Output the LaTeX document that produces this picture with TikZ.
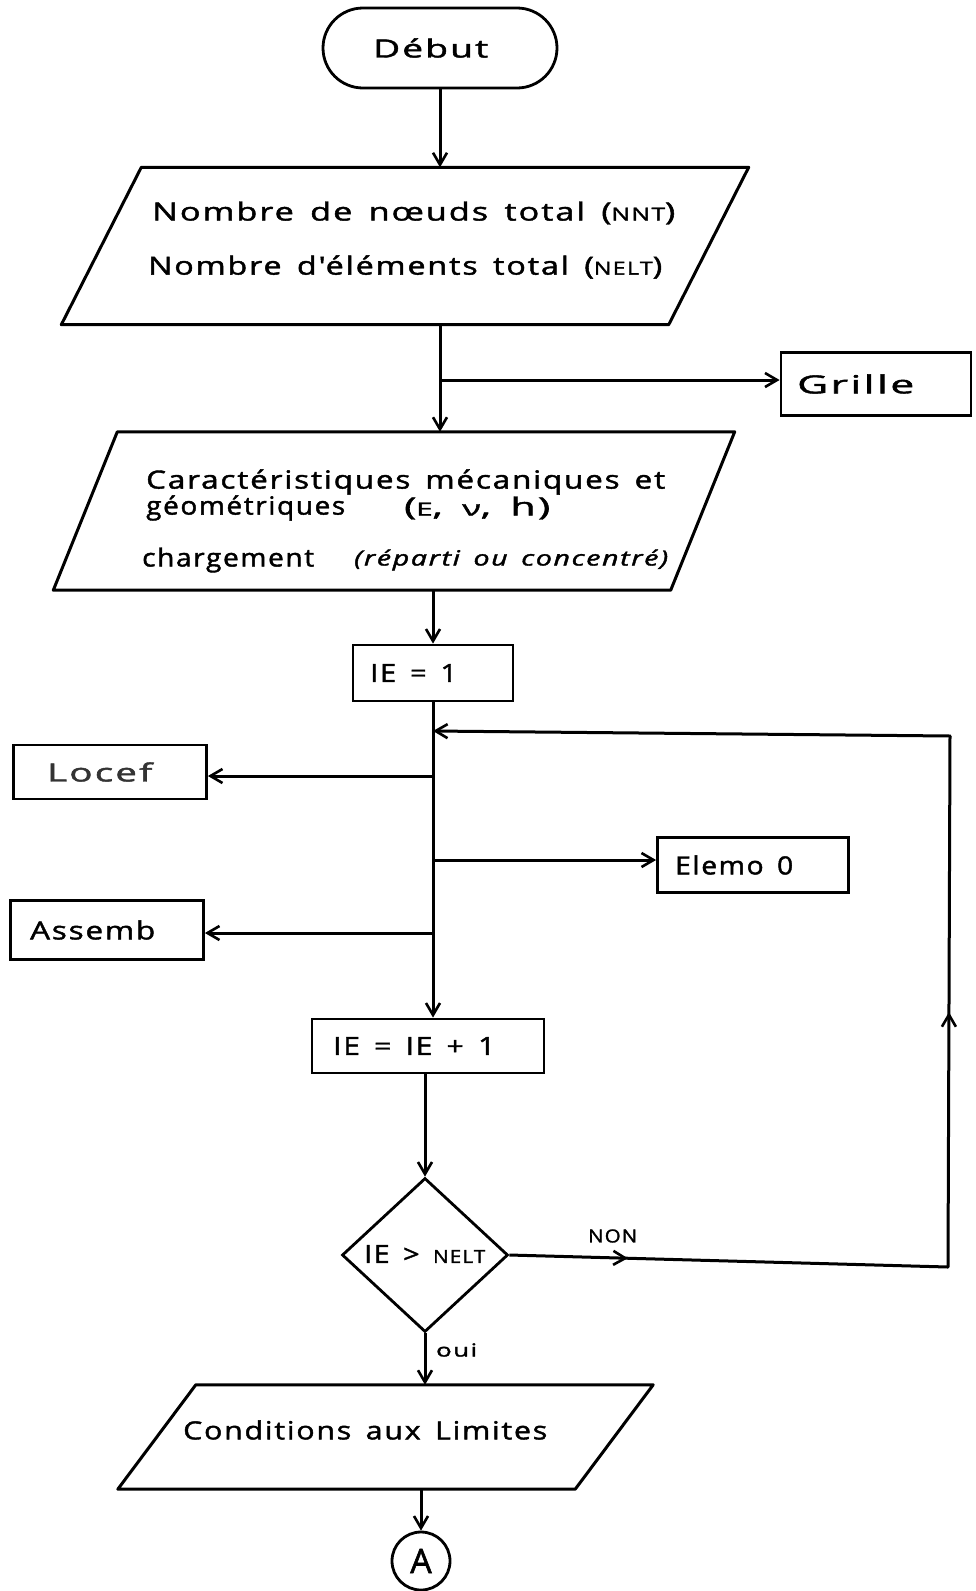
\documentclass[tikz,border=0pt]{standalone}
\usepackage{fontspec}
\usepackage{graphicx}
\newfontfamily\hw{Open Sans}[LetterSpace=6, WordSpace=1.5, FakeBold=1.6]
\usetikzlibrary{arrows.meta,shapes.geometric,shapes.misc,decorations.markings,calc}
\tikzset{
  shp/.style={draw=black, line width=2.8pt, inner sep=0pt},
  hold/.style={draw=none, inner sep=0pt, rectangle},
  txt/.style={inner sep=0pt, anchor=west, font=\hw\fontsize{25}{28}\selectfont},
  sml/.style={inner sep=0pt, font=\hw\fontsize{18}{20}\selectfont},
  conn/.style={draw=black, line width=3pt},
  arr/.style={conn, -{Straight Barb[length=12pt,width=14pt,line width=2.6pt]}},
  midarr/.style={conn, postaction={decorate}, decoration={markings, mark=at position #1 with {\arrow{Straight Barb[length=12pt,width=14pt,line width=2.6pt]}}}},
}
\newcommand\parashape[2]{\draw[line width=3pt, line join=round] ($(#1.north west)+(#2,0)$) -- ($(#1.north east)+(#2,0)$) -- ($(#1.south east)-(#2,0)$) -- ($(#1.south west)-(#2,0)$) -- cycle;}
\newcommand\smc[1]{{\fontsize{18}{20}\selectfont #1}}
\newcommand\fit[2]{\resizebox{#1pt}{\height}{#2}}
\begin{document}
\begin{tikzpicture}[x=1pt,y=-1pt]
\fill[white] (0,0) rectangle (975,1591);
\useasboundingbox (0,0) rectangle (975,1591);

\node[shp, rounded rectangle, minimum width=234pt, minimum height=80pt] (debut) at (440,48) {};
\node[txt] (debutt) at (373,48) {\fit{115}{Début}};

\node[hold, minimum width=607pt, minimum height=157pt] (p1) at (405,246) {};
\parashape{p1}{40}
\node[txt] (p1a) at (152,213) {\fit{523}{Nombre de nœuds total (\smc{NNT})}};
\node[txt] (p1b) at (148,267) {\fit{514}{Nombre d'éléments total (\smc{NELT})}};

\node[shp, minimum width=190pt, minimum height=63pt] (grille) at (876,384) {};
\node[txt] (grillet) at (797,384) {\fit{117}{Grille}};

\node[hold, minimum width=617pt, minimum height=158pt] (p2) at (394,511) {};
\parashape{p2}{32}
\node[txt] (p2a) at (146,482) {\fit{519}{Caractéristiques mécaniques et}};
\node[txt] (p2b) at (146,508) {\fit{199}{géométriques}};
\node[txt] (p2c) at (404,508) {\fit{146}{(\smc{E}, {\fontsize{21}{24}\selectfont ν}, h)}};
\node[txt] (p2d) at (142,560) {\fit{172}{chargement}};
\node[txt, font=\hw\itshape\fontsize{21}{24}\selectfont] (p2e) at (354,560) {\fit{314}{(réparti ou concentré)}};

\node[shp, minimum width=160pt, minimum height=56pt] (ie1) at (433,673) {};
\node[txt] (ie1t) at (370,673) {\fit{87}{IE = 1}};

\node[shp, minimum width=193pt, minimum height=54pt] (locef) at (110,772) {};
\node[txt, text=black!80] (loceft) at (47,772) {\fit{105}{Locef}};
\node[shp, minimum width=191pt, minimum height=55pt] (elemo) at (753,865) {};
\node[txt] (elemot) at (675,865) {\fit{118}{Elemo 0}};
\node[shp, minimum width=193pt, minimum height=59pt] (assemb) at (107,930) {};
\node[txt] (assembt) at (30,930) {\fit{125}{Assemb}};
\node[shp, minimum width=232pt, minimum height=54pt] (ieinc) at (428,1046) {};
\node[txt] (ieinct) at (333,1046) {\fit{162}{IE = IE + 1}};

\node[shp, diamond, minimum width=166pt, minimum height=154pt] (diam) at (425,1255) {};
\node[txt] (diamt) at (364,1254) {\fit{121}{IE > \smc{NELT}}};

\node[hold, minimum width=457pt, minimum height=104pt] (p3) at (385.5,1437) {};
\parashape{p3}{39}
\node[txt] (p3t) at (183,1430) {\fit{364}{Conditions aux Limites}};

\node[shp, circle, minimum size=58pt] (conA) at (421,1561) {};
\node[txt, anchor=center, font=\hw\fontsize{34}{38}\selectfont] (conAt) at (421,1561) {A};

\node[sml, anchor=west] (non) at (588,1236) {\fit{49}{NON}};
\node[sml, anchor=west] (oui) at (436,1350) {\fit{41}{oui}};

\coordinate (b1) at (440,380);
\coordinate (j0) at (433,731);
\coordinate (jl) at (433,776);
\coordinate (je) at (433,860);
\coordinate (ja) at (433,933);
\coordinate (nr) at (948,1267);
\coordinate (tr) at (950,736);

\draw[arr] (debut.south) -- (debut.south |- p1.north);
\draw[arr] (debut.south |- p1.south) -- (debut.south |- p2.north);
\draw[arr] (b1) -- (grille.west |- b1);
\draw[arr] (ie1.north |- p2.south) -- (ie1.north);
\draw[arr] (ie1.south) -- (ie1.south |- ieinc.north);
\draw[arr] (jl) -- (locef.east |- jl);
\draw[arr] (je) -- (elemo.west |- je);
\draw[arr] (ja) -- (assemb.east |- ja);
\draw[arr] (ieinc.south -| diam.north) -- (diam.north);
\draw[midarr=0.27] (diam.east) -- (nr);
\draw[midarr=0.48, line cap=round] (nr) -- (tr);
\draw[arr, line cap=round] (tr) -- (j0);
\draw[arr] (diam.south) -- (diam.south |- p3.north);
\draw[arr] (conA.north |- p3.south) -- (conA.north);
\end{tikzpicture}
\end{document}
